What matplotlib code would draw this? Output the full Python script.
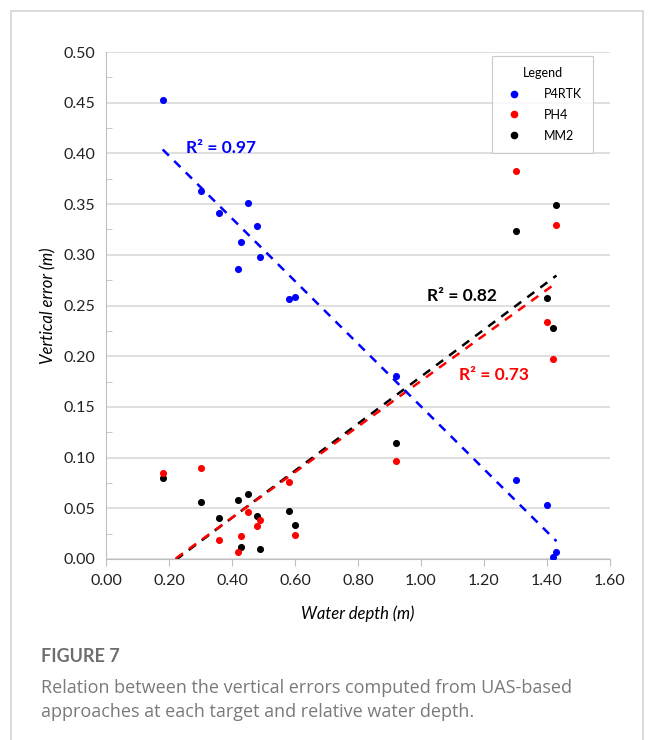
import numpy as np
import matplotlib
matplotlib.use("Agg")
import matplotlib.pyplot as plt
from matplotlib.patches import Rectangle
from matplotlib.lines import Line2D

depth = [0.18, 0.30, 0.36, 0.42, 0.43, 0.45, 0.48, 0.49, 0.58, 0.60, 0.92, 1.30, 1.40, 1.42, 1.43]
p4rtk = [0.453, 0.363, 0.341, 0.286, 0.313, 0.351, 0.328, 0.298, 0.256, 0.258, 0.180, 0.078, 0.053, 0.002, 0.007]
ph4 = [0.085, 0.090, 0.019, 0.007, 0.023, 0.046, 0.033, 0.038, 0.076, 0.024, 0.097, 0.383, 0.234, 0.197, 0.329]
mm2 = [0.080, 0.056, 0.040, 0.058, 0.012, 0.064, 0.042, 0.010, 0.047, 0.034, 0.114, 0.323, 0.257, 0.228, 0.349]
series_names = ["P4RTK", "PH4", "MM2"]
r2_labels = ["R² = 0.97", "R² = 0.73", "R² = 0.82"]
xticks = [0.0, 0.2, 0.4, 0.6, 0.8, 1.0, 1.2, 1.4, 1.6]
yticks = [0.0, 0.05, 0.10, 0.15, 0.20, 0.25, 0.30, 0.35, 0.40, 0.45, 0.50]

colors = ["#0000ff", "#ff0000", "#000000"]
plt.rcParams['font.family'] = ['Lato', 'DejaVu Sans']

fig = plt.figure(figsize=(6.54, 7.4), dpi=100)
fig.patches.append(Rectangle((11/654, -0.05), (643-11)/654, 1 - 11/740 + 0.05,
                             transform=fig.transFigure, fill=False,
                             edgecolor="#d4d4d4", linewidth=1.2))

ax = fig.add_axes([106/654, 1-559/740, (610-106)/654, (559-52)/740])
ax.set_xlim(0, 1.6)
ax.set_ylim(0, 0.5)
ax.set_xticks(xticks)
ax.set_yticks(yticks)
ax.set_xticklabels([f"{v:.2f}" for v in xticks], fontsize=11.5, color="#222222")
ax.set_yticklabels([f"{v:.2f}" for v in yticks], fontsize=11.5, color="#222222")
ax.set_yticks(np.arange(0.025, 0.5, 0.05), minor=True)
ax.tick_params(axis='y', which='major', length=0, pad=8)
ax.tick_params(axis='y', which='minor', length=4, direction='in', color="#bfbfbf")
ax.tick_params(axis='x', which='major', length=5, direction='out', color="#bfbfbf", pad=6)
ax.grid(axis='y', color="#d9d9d9", linewidth=1.2)
ax.set_axisbelow(True)
for s in ['top', 'right']:
    ax.spines[s].set_visible(False)
ax.spines['left'].set_color("#bfbfbf")
ax.spines['bottom'].set_color("#bfbfbf")

x = np.array(depth)
data = [p4rtk, ph4, mm2]
for i in [0, 2, 1]:
    y = np.array(data[i])
    ax.scatter(x, y, s=26, color=colors[i], zorder=3, linewidths=0)
for i in [2, 1, 0]:
    y = np.array(data[i])
    m, b = np.polyfit(x, y, 1)
    xx = np.array([x.min(), x.max()])
    ax.plot(xx, m*xx + b, linestyle=(0, (3.5, 3)), color=colors[i], linewidth=1.8, zorder=2)

ax.text(0.255, 0.405, r2_labels[0], color=colors[0], fontsize=12.5, fontweight='bold', va='center')
ax.text(1.02, 0.259, r2_labels[2], color=colors[2], fontsize=12.5, fontweight='bold', va='center')
ax.text(1.12, 0.181, r2_labels[1], color=colors[1], fontsize=12.5, fontweight='bold', va='center')

ax.set_xlabel("Water depth (m)", fontsize=12, style='italic', labelpad=12)
ax.set_ylabel("Vertical error (m)", fontsize=12, style='italic', labelpad=5)

handles = [Line2D([], [], marker='o', linestyle='none', color=c, markersize=4.5) for c in colors]
leg = ax.legend(handles, series_names, title="Legend", loc='upper right',
                bbox_to_anchor=((593-106)/504, 1 - (56-52)/507), fontsize=9,
                title_fontsize=9, frameon=True, fancybox=False, edgecolor="#bfbfbf",
                handletextpad=1.6, labelspacing=0.7, borderpad=0.9, handlelength=1.6,
                borderaxespad=0)
leg.get_frame().set_linewidth(0.8)

fig.text(41/654, 1-656/740, "FIGURE 7", fontsize=13, color="#6e6e6e", va='center',
         family=['Lato', 'DejaVu Sans'], fontweight='bold')
fig.text(41/654, 1-688/740, "Relation between the vertical errors computed from UAS-based",
         fontsize=13, color="#7a7a7a", va='center', family=['Open Sans', 'DejaVu Sans'])
fig.text(41/654, 1-712/740, "approaches at each target and relative water depth.",
         fontsize=13, color="#7a7a7a", va='center', family=['Open Sans', 'DejaVu Sans'])

fig.savefig("out.png", dpi=100)
